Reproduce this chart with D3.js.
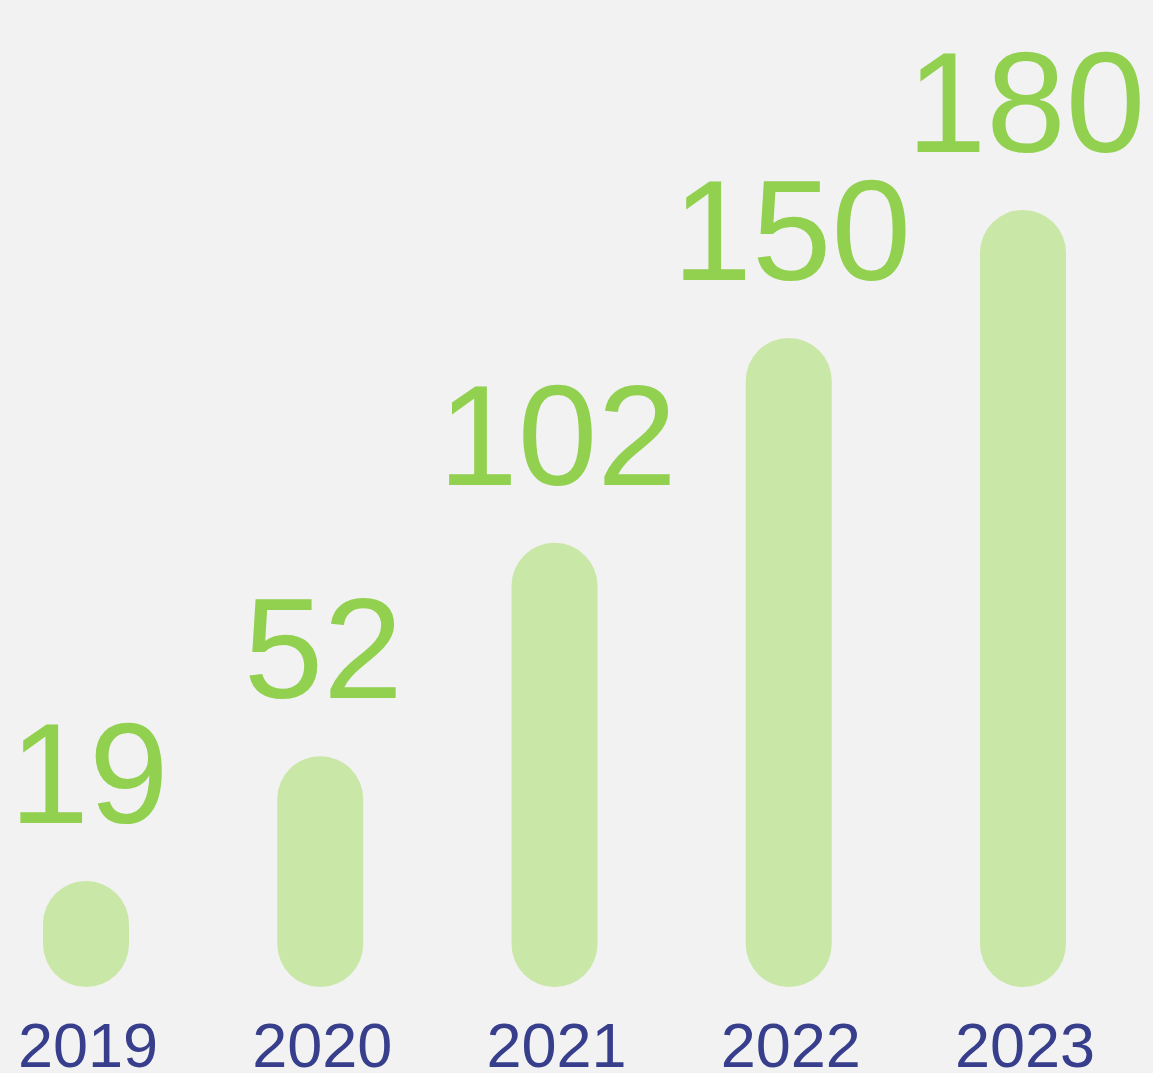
<!DOCTYPE html>
<html>
<head>
<meta charset="utf-8">
<script src="https://cdn.jsdelivr.net/npm/d3@7"></script>
<style>
  html, body { margin: 0; padding: 0; background: #f2f2f2; }
  svg { display: block; }
  text { font-family: Arial, "Liberation Sans", Helvetica, sans-serif; }
</style>
</head>
<body>
<div id="chart"></div>
<script>
const years = ['2019', '2020', '2021', '2022', '2023'];
const values = [19, 52, 102, 150, 180];

const width = 1153;
const height = 1073;
const barWidth = 86;
const barBottom = 987;

const svg = d3.select('#chart')
    .append('svg')
    .attr('width', width)
    .attr('height', height);

svg.append('rect')
    .attr('width', width)
    .attr('height', height)
    .attr('fill', '#f2f2f2');

const x = d3.scalePoint()
    .domain(years)
    .range([86, 1023]);

// top of each pill
const y = d3.scaleLinear()
    .domain([0, 180])
    .range([978, 210]);

const data = years.map((yr, i) => ({year: yr, value: values[i]}));

const barTop = d => Math.min(y(d.value), barBottom - barWidth - 20);

svg.selectAll('rect.bar')
    .data(data)
    .enter()
    .append('rect')
    .attr('class', 'bar')
    .attr('x', d => x(d.year) - barWidth / 2)
    .attr('y', barTop)
    .attr('width', barWidth)
    .attr('height', d => barBottom - barTop(d))
    .attr('rx', barWidth / 2)
    .attr('ry', barWidth / 2)
    .attr('fill', '#c9e7a7');

// value labels
svg.selectAll('text.value')
    .data(data)
    .enter()
    .append('text')
    .attr('class', 'value')
    .attr('x', d => x(d.year) + 3)
    .attr('y', d => barTop(d) - 58)
    .attr('text-anchor', 'middle')
    .style('font-size', '143px')
    .attr('fill', '#92d050')
    .text(d => d.value);

// year labels
svg.selectAll('text.year')
    .data(data)
    .enter()
    .append('text')
    .attr('class', 'year')
    .attr('x', d => x(d.year) + 2)
    .attr('y', 1067)
    .attr('text-anchor', 'middle')
    .style('font-size', '63px')
    .attr('fill', '#373e8c')
    .text(d => d.year);
</script>
</body>
</html>
